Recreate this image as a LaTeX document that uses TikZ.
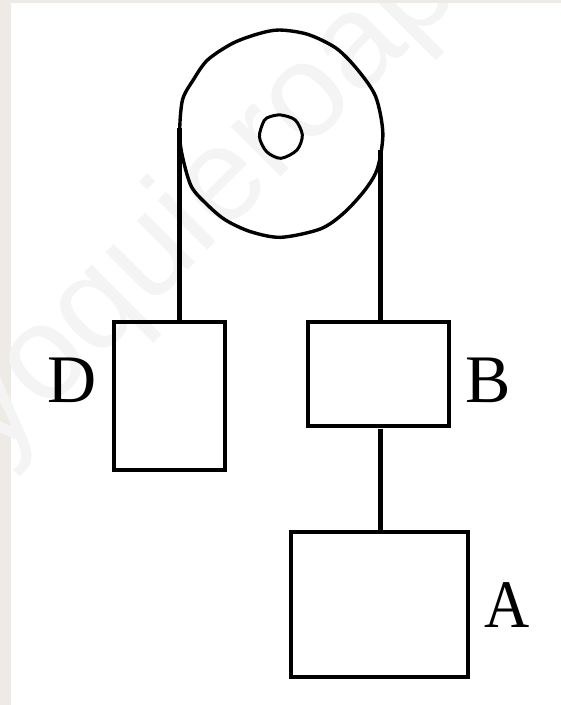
\documentclass[tikz,border=0pt]{standalone}
\usepackage{fontspec}
\setmainfont{Liberation Serif}
\newfontfamily\wmfont{Liberation Sans}
\definecolor{strip}{HTML}{EEEBE6}
\definecolor{wm}{HTML}{F4F4F4}
\tikzset{
  rope/.style={line width=4.5pt,line cap=butt},
  block/.style={draw,line width=4pt,inner sep=0pt,outer sep=0pt,rectangle},
  rim/.style={line width=3.4pt,line join=round},
  letter/.style={font=\fontsize{68pt}{68pt}\selectfont,inner sep=0pt,anchor=base},
  wmark/.style={text=wm,font=\fontsize{133pt}{133pt}\selectfont\wmfont,rotate=45,inner sep=0pt,anchor=base west}
}
\begin{document}
\begin{tikzpicture}[x=1pt,y=-1pt]
\useasboundingbox (0,0) rectangle (561,705);
\fill[strip] (0,0) rectangle (561,705);
\fill[white] (11,3) rectangle (561,705);
\begin{scope}
\clip (0,3) rectangle (561,705);
\node[wmark] (wmk) at (-2.5,460.5) {yoquieroap};
\end{scope}
\begin{scope}[x=0.3578pt,y=-0.3333pt]
\draw[rim] plot[smooth cycle,tension=0.5] coordinates {(780,90) (860,103) (940,145) (1000,210) (1050,290) (1070,400) (1055,505) (1020,570) (960,640) (895,687) (785,712) (700,695) (630,660) (580,615) (535,560) (510,470) (502,400) (510,300) (540,240) (580,180) (650,130) (720,102)};
\draw[rim,line width=3pt] plot[smooth cycle,tension=0.5] coordinates {(785,345) (825,360) (845,405) (830,450) (785,475) (745,455) (725,410) (738,362) (755,350)};
\end{scope}
\node[block,minimum width=111pt,minimum height=148pt] (D) at (169.5,396) {};
\node[block,minimum width=141.5pt,minimum height=104pt] (B) at (378.7,374) {};
\node[block,minimum width=177pt,minimum height=145pt] (A) at (379.5,604.5) {};
\coordinate (lefttop) at (179.5,128);
\coordinate (righttop) at (380.5,150);
\coordinate (lowertop) at (380.5,428.5);
\draw[rope] (lefttop) -- (lefttop |- D.north);
\draw[rope] (righttop) -- (righttop |- B.north);
\draw[rope] (lowertop) -- (lowertop |- A.north);
\node[letter] (labD) at (72.5,402) {D};
\node[letter] (labB) at (488,402) {B};
\node[letter,xscale=0.92] (labA) at (507.5,627) {A};
\end{tikzpicture}
\end{document}
